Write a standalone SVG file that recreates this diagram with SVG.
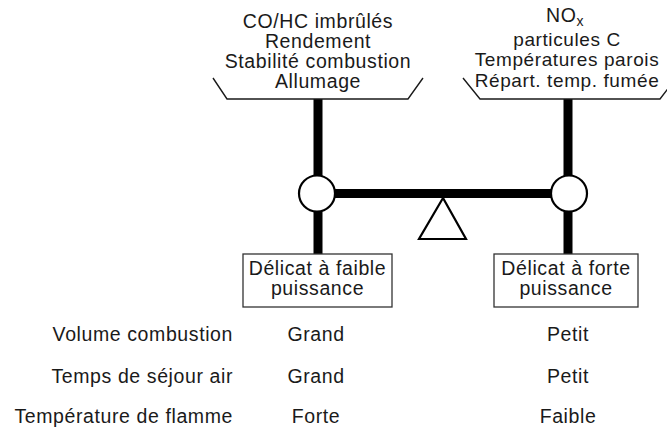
<svg xmlns="http://www.w3.org/2000/svg" width="667" height="430" viewBox="0 0 667 430">
<style>
text{font-family:"Liberation Sans",Arial,sans-serif;font-size:19.5px;letter-spacing:0.6px;fill:#1a1a1a}
.c{text-anchor:middle}
.r{text-anchor:end}
.s{font-size:19px}
.thin{fill:none;stroke:#1a1a1a;stroke-width:1.4}
.post{stroke:#000;stroke-width:9;fill:none}
.box{fill:#fff;stroke:#333;stroke-width:1.3}
.ring{fill:#fff;stroke:#000;stroke-width:2.2}
</style>
<rect width="667" height="430" fill="#fff"/>
<g id="connectors">
<line class="post" x1="318" y1="99" x2="318" y2="254"/>
<line class="post" x1="568" y1="99" x2="568" y2="254"/>
<line class="post" x1="318" y1="193.5" x2="568" y2="193.5"/>
</g>
<g id="bracket-left">
<polyline class="thin" points="213,78 227,99 408,99 423,78"/>
<text class="c" x="318" y="28">CO/HC imbrûlés</text>
<text class="c" x="318" y="48">Rendement</text>
<text class="c" x="318" y="68">Stabilité combustion</text>
<text class="c" x="318" y="88">Allumage</text>
</g>
<g id="bracket-right">
<polyline class="thin" points="463,78 480,99 660,99 676,78"/>
<text x="546" y="22">NO<tspan font-size="14" dy="4">x</tspan></text>
<text class="c s" x="567" y="46">particules C</text>
<text class="c s" x="567" y="66">Températures parois</text>
<text class="c s" x="567" y="87">Répart. temp. fumée</text>
</g>
<g id="pivot-left"><circle class="ring" cx="317" cy="193.5" r="18"/></g>
<g id="pivot-right"><circle class="ring" cx="569" cy="193.5" r="18"/></g>
<g id="fulcrum"><polygon points="443,198 419,239 466,239" fill="#fff" stroke="#000" stroke-width="2.2"/></g>
<g id="box-left">
<rect class="box" x="243" y="254" width="149" height="53"/>
<text class="c" x="317.5" y="275">Délicat à faible</text>
<text class="c" x="317.5" y="295">puissance</text>
</g>
<g id="box-right">
<rect class="box" x="494" y="254" width="144" height="53"/>
<text class="c" x="566" y="275">Délicat à forte</text>
<text class="c" x="566" y="295">puissance</text>
</g>
<g id="table">
<text class="r" x="233" y="341">Volume combustion</text>
<text class="r" x="233" y="383">Temps de séjour air</text>
<text class="r" x="233" y="423">Température de flamme</text>
<text class="c" x="316" y="341">Grand</text>
<text class="c" x="316" y="383">Grand</text>
<text class="c" x="316" y="423">Forte</text>
<text class="c" x="568" y="341">Petit</text>
<text class="c" x="568" y="383">Petit</text>
<text class="c" x="568" y="423">Faible</text>
</g>
</svg>
